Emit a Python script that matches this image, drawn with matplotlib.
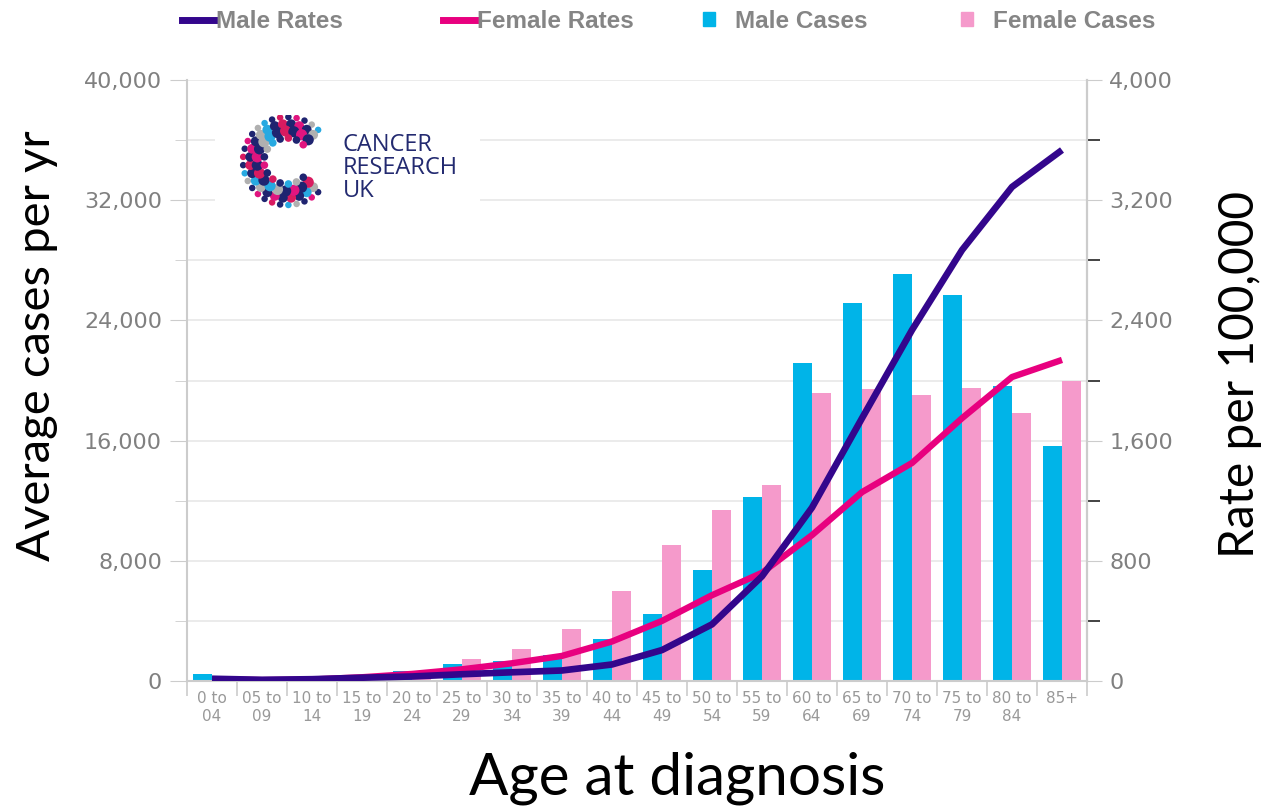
import matplotlib

matplotlib.use('Agg')
import matplotlib.pyplot as plt
import numpy as np
from matplotlib.lines import Line2D
from matplotlib.patches import Patch
from matplotlib.ticker import MultipleLocator, FuncFormatter

age_groups = ['0 to\n04', '05 to\n09', '10 to\n14', '15 to\n19', '20 to\n24', '25 to\n29',
              '30 to\n34', '35 to\n39', '40 to\n44', '45 to\n49', '50 to\n54', '55 to\n59',
              '60 to\n64', '65 to\n69', '70 to\n74', '75 to\n79', '80 to\n84', '85+']
male_cases = [460, 150, 180, 320, 690, 1110, 1360, 1740, 2790, 4440, 7360, 12270,
              21140, 25170, 27110, 25690, 19610, 15660]
female_cases = [280, 120, 170, 330, 560, 1470, 2140, 3430, 5970, 9060, 11360, 13050,
                19150, 19410, 19020, 19520, 17830, 19950]
male_rates = [15, 8, 12, 22, 30, 45, 58, 70, 110, 206, 377, 697,
              1154, 1749, 2336, 2868, 3288, 3534]
female_rates = [12, 6, 10, 25, 47, 78, 118, 167, 263, 400, 571, 720,
                971, 1257, 1451, 1749, 2023, 2137]

male_rate_col = '#33068c'
female_rate_col = '#e8007f'
male_case_col = '#00b4e8'
female_case_col = '#f59acb'
grey_txt = '#808080'
spine_col = '#cccccc'

W, H = 1266, 809
fig = plt.figure(figsize=(W / 100, H / 100), dpi=100)
ax = fig.add_axes([187 / W, 1 - 681 / H, 900 / W, 601 / H])
ax2 = ax.twinx()

x = np.arange(len(age_groups))
bw = 0.38
ax.bar(x - bw / 2, male_cases, bw, color=male_case_col, zorder=2)
ax.bar(x + bw / 2, female_cases, bw, color=female_case_col, zorder=2)
ax2.plot(x, female_rates, color=female_rate_col, lw=4.6, solid_capstyle='butt', zorder=3)
ax2.plot(x, male_rates, color=male_rate_col, lw=4.8, solid_capstyle='butt', zorder=4)

ax.set_xlim(-0.5, len(age_groups) - 0.5)
ax.set_ylim(0, 40000)
ax2.set_ylim(0, 4000)

# left axis
ax.yaxis.set_major_locator(MultipleLocator(8000))
ax.yaxis.set_minor_locator(MultipleLocator(4000))
ax.yaxis.set_major_formatter(FuncFormatter(lambda v, p: f'{int(v):,}'))
ax.tick_params(axis='y', which='major', length=12, color=spine_col, labelsize=16,
               labelcolor=grey_txt, pad=6)
ax.tick_params(axis='y', which='minor', length=9, color=spine_col)
ax.grid(axis='y', which='both', color='#e8e8e8', lw=1.2, zorder=0)
ax.set_axisbelow(True)

# right axis
ax2.yaxis.set_major_locator(MultipleLocator(800))
ax2.yaxis.set_minor_locator(MultipleLocator(400))
ax2.yaxis.set_major_formatter(FuncFormatter(lambda v, p: f'{int(v):,}'))
ax2.tick_params(axis='y', which='major', length=11, color=spine_col, labelsize=16,
                labelcolor=grey_txt, pad=5)
ax2.tick_params(axis='y', which='minor', length=9, color='#222222', width=1.2)

# bottom axis: ticks between groups, labels at centres
ax.set_xticks(x)
ax.set_xticklabels(age_groups, fontsize=11, color='#999999', linespacing=1.25)
ax.tick_params(axis='x', which='major', length=0, pad=7)
ax.set_xticks(np.arange(len(age_groups) + 1) - 0.5, minor=True)
ax.tick_params(axis='x', which='minor', length=11, color=spine_col, width=1.2)

for a in (ax, ax2):
    a.spines['top'].set_visible(False)
    for s in ('left', 'right', 'bottom'):
        a.spines[s].set_color(spine_col)
        a.spines[s].set_linewidth(1.5)
ax2.spines['left'].set_visible(False)
ax2.spines['bottom'].set_visible(False)

# axis titles
fig.text(37 / W, 1 - 346 / H, 'Average cases per yr', rotation=90, ha='center', va='center',
         fontsize=34, family='Lato')
fig.text(1240 / W, 1 - 374 / H, 'Rate per 100,000', rotation=90, ha='center', va='center',
         fontsize=34.5, family='Lato')
fig.text(677 / W, 1 - 778 / H, 'Age at diagnosis', ha='center', va='center',
         fontsize=42, family='Lato')

# legend entries, one per position
entries = [
    (Line2D([], [], color=male_rate_col, lw=5), 'Male Rates', 182, 1.3),
    (Line2D([], [], color=female_rate_col, lw=5), 'Female Rates', 443, 1.3),
    (Patch(color=male_case_col), 'Male Cases', 703, 0.5),
    (Patch(color=female_case_col), 'Female Cases', 961, 0.5),
]
for h, lab, px, hl in entries:
    leg = fig.legend([h], [lab], loc='center left', bbox_to_anchor=(px / W, 1 - 21 / H),
                     frameon=False, fontsize=17.5, handlelength=hl, handleheight=0.55,
                     handletextpad=0.08 if hl > 1 else 0.8, borderpad=0, borderaxespad=0)
    for t in leg.get_texts():
        t.set_color('#858585')
        t.set_fontweight('bold')
        t.set_family('Liberation Sans')

# Cancer Research UK logo
logo = fig.add_axes([215 / W, 1 - 210 / H, 265 / W, 95 / H])
logo.set_xlim(0, 265)
logo.set_ylim(95, 0)
logo.axis('off')
logo.add_patch(plt.Rectangle((0, 0), 265, 95, color='white', zorder=0))
dot_cols = ['#1f2470', '#e0157f', '#1f2470', '#b0b0b0', '#27a9e1', '#1f2470', '#d81b60']
cx, cy = 72, 46
k = 0
for r, n, s in [(44, 26, 22), (37, 22, 50), (30, 18, 65), (23, 14, 30)]:
    ang = np.linspace(np.radians(45), np.radians(315), n)
    logo.scatter(cx + r * np.cos(ang), cy + r * np.sin(ang), s=s, lw=0,
                 c=[dot_cols[(k + i) % len(dot_cols)] for i in range(n)], zorder=2)
    k += 3
logo.text(128, 18, 'CANCER\nRESEARCH\nUK', ha='left', va='top', fontsize=17,
          color='#232a70', family='Open Sans', linespacing=0.95)

fig.savefig('out.png', dpi=100)
